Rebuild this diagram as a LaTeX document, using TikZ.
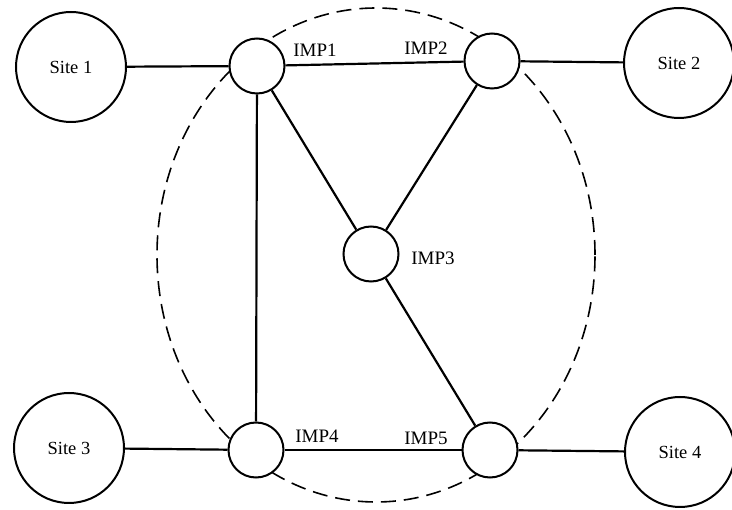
\documentclass[tikz,border=0pt]{standalone}
\usepackage{fontspec}
\setmainfont{Liberation Serif}
\begin{document}
\begin{tikzpicture}[x=1pt,y=-1pt,
  site/.style={circle,draw,line width=2pt,fill=white,minimum size=110pt,inner sep=0pt,font=\fontsize{18.5}{22}\selectfont},
  imp/.style={circle,draw,line width=2pt,fill=white,minimum size=55pt,inner sep=0pt},
  lbl/.style={font=\fontsize{19}{22}\selectfont,inner sep=0pt},
  link/.style={line width=2.2pt}]
\useasboundingbox (0,0) rectangle (732,510);
\draw[line width=1.6pt,dash pattern=on 15pt off 8pt] (376,255) ellipse [x radius=219pt, y radius=247pt];
\node[site] (s1) at (71,67) {Site 1};
\node[site] (s2) at (679,63) {Site 2};
\node[site] (s3) at (69,448) {Site 3};
\node[site] (s4) at (680,452) {Site 4};
\node[imp] (i1) at (257,66) {};
\node[imp] (i2) at (492,61) {};
\node[imp] (i3) at (371,254) {};
\node[imp] (i4) at (256,450) {};
\node[imp] (i5) at (490,450) {};
\node[lbl] (l1) at (315,50) {IMP1};
\node[lbl] (l2) at (426,48) {IMP2};
\node[lbl] (l3) at (433,258) {IMP3};
\node[lbl] (l4) at (317,436) {IMP4};
\node[lbl] (l5) at (426,438) {IMP5};
\draw[link] (s1) -- (i1);
\draw[link] (i1) -- (i2);
\draw[link] (i2) -- (s2);
\draw[link] (i1) -- (i4);
\draw[link] (i1) -- (i3);
\draw[link] (i2) -- (i3);
\draw[link] (i3) -- (i5);
\draw[link] (i4) -- (i5);
\draw[link] (s3) -- (i4);
\draw[link] (i5) -- (s4);
\end{tikzpicture}
\end{document}
